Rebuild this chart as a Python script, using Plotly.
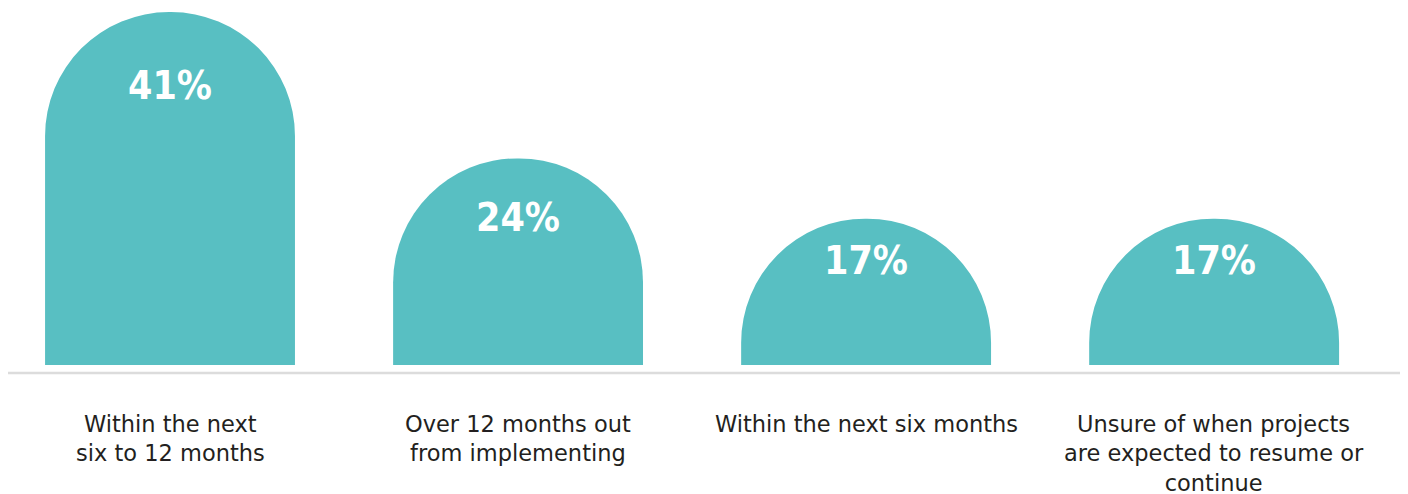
import plotly.graph_objects as go

# Survey results: expected timing for projects to resume
categories = [
    "Within the next<br>six to 12 months",
    "Over 12 months out<br>from implementing",
    "Within the next six months",
    "Unsure of when projects<br>are expected to resume or<br>continue",
]
values = [41, 24, 17, 17]
value_labels = ["41%", "24%", "17%", "17%"]

TEAL = "#58bfc2"
TEXT = "#231f20"

xs = list(range(len(values)))

fig = go.Figure()
fig.add_trace(go.Bar(
    x=xs,
    y=values,
    width=0.718,
    marker=dict(color=TEAL, cornerradius="50%", line=dict(width=0)),
    hoverinfo="skip",
))

# percentage labels inside the domed tops (pixel depth of label centre below each top)
label_depth = [73, 59, 42, 42]
for x, v, t, d in zip(xs, values, value_labels, label_depth):
    fig.add_annotation(
        x=x, y=v, xref="x", yref="y", text=f"<b>{t}</b>",
        showarrow=False, yanchor="middle", yshift=-d,
        font=dict(family="DejaVu Sans Condensed, Arial Narrow, sans-serif",
                  size=39, color="white"),
    )

# category captions beneath the baseline
for x, c in zip(xs, categories):
    fig.add_annotation(
        x=x, y=0, xref="x", yref="y", text=c,
        showarrow=False, yanchor="top", yshift=-44, align="center",
        font=dict(family="DejaVu Sans, Liberation Sans, Arial, sans-serif", size=22.5, color=TEXT),
    )

# light baseline rule
fig.add_shape(type="line", xref="paper", yref="paper",
              x0=8 / 1408, x1=1400 / 1408, y0=-8 / 365, y1=-8 / 365,
              line=dict(color="#dcdcdc", width=2.5))

fig.update_layout(
    width=1408, height=494,
    margin=dict(l=0, r=0, t=0, b=129),
    paper_bgcolor="white", plot_bgcolor="white",
    showlegend=False,
    xaxis=dict(range=[-0.4885, 3.557], visible=False, fixedrange=True),
    yaxis=dict(range=[0, 42.4], visible=False, fixedrange=True),
)

fig.write_html("out.html", config={"displayModeBar": False})
